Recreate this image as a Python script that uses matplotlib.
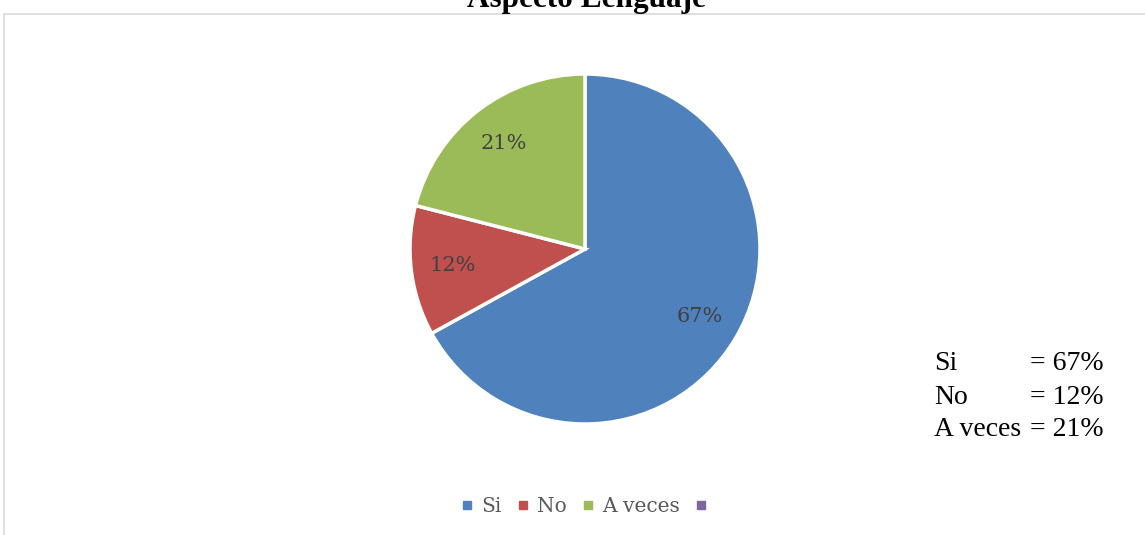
import matplotlib
matplotlib.use("Agg")
import matplotlib.pyplot as plt
from matplotlib.lines import Line2D
from matplotlib.patches import Rectangle

title = "Aspecto Lenguaje"
categories = ["Si", "No", "A veces", ""]
values = [67, 12, 21, 0]
colors = ["#4F81BD", "#C0504D", "#9BBB59", "#8064A2"]
summary_names = ["Si", "No", "A veces"]
summary_texts = ["= 67%", "= 12%", "= 21%"]

W, H = 1145, 535
fig = plt.figure(figsize=(W / 100, H / 100), dpi=100)
fig.patch.set_facecolor("white")

# chart border (extends beyond right and bottom edges)
fig.patches.append(Rectangle((4 / W, -0.1), 1.2, 1 - 13.5 / H + 0.1,
                             transform=fig.transFigure, fill=False,
                             edgecolor="#d9d9d9", linewidth=1.2))

# title (partially cut off at the top)
fig.text(586 / W, 1 - 7 / H, title, ha="center", va="baseline",
         fontsize=22.5, fontweight="bold", family="Liberation Serif", color="black")

cx, cy, r = 585, 249, 175
ax = fig.add_axes([(cx - r) / W, (H - cy - r) / H, 2 * r / W, 2 * r / H])
pie_vals = [v for v in values if v > 0]
pie_cols = [c for v, c in zip(values, colors) if v > 0]
wedges, texts, autotexts = ax.pie(
    pie_vals, colors=pie_cols, startangle=90, counterclock=False,
    autopct=lambda p: f"{p:.0f}%", pctdistance=0.76, radius=1,
    wedgeprops=dict(edgecolor="white", linewidth=2.5),
    textprops=dict(fontsize=15, family="DejaVu Serif", color="#404040"))
ax.set_xlim(-1, 1)
ax.set_ylim(-1, 1)
ax.set_aspect("equal")
ax.axis("off")

# summary text on the right
ys = [364, 397, 429]
for name, txt, y in zip(summary_names, summary_texts, ys):
    fig.text(934 / W, 1 - y / H, name, ha="left", va="center",
             fontsize=20, family="Liberation Serif", color="black")
    fig.text(1030 / W, 1 - y / H, txt, ha="left", va="center",
             fontsize=20, family="Liberation Serif", color="black")

# legend
handles = [Line2D([], [], marker="s", linestyle="none", markersize=6,
                  markerfacecolor=c, markeredgecolor=c) for c in colors]
leg = fig.legend(handles, categories, loc="center", bbox_to_anchor=(588 / W, 1 - 507 / H),
                 ncol=4, frameon=False, handlelength=0.6, handletextpad=0.4,
                 columnspacing=0.75, prop=dict(family="DejaVu Serif", size=14.5))
for t in leg.get_texts():
    t.set_color("#595959")

fig.savefig("out.png", dpi=100, facecolor="white")
